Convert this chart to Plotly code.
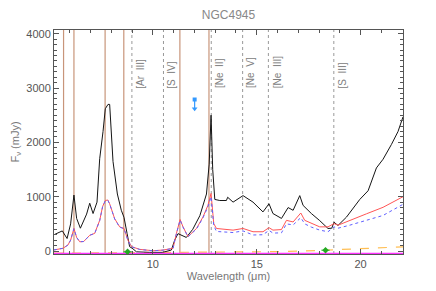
import plotly.graph_objects as go

# ---- data ----
black_wl = [5.24, 5.42, 5.64, 5.87, 6.04, 6.20, 6.33, 6.51, 6.67, 6.81, 6.96, 7.12, 7.31, 7.44, 7.60,
            7.71, 7.84, 7.92, 8.08, 8.29, 8.48, 8.61, 8.76, 8.88, 9.04, 9.21, 9.85, 10.47, 10.89, 11.05,
            11.21, 11.45, 11.61, 11.92, 12.26, 12.58, 12.71, 12.80, 12.88, 12.98, 13.22, 13.54, 13.60,
            13.86, 14.34, 14.82, 15.30, 15.59, 15.78, 16.19, 16.51, 16.75, 17.07, 17.23, 17.63, 18.03,
            18.43, 18.61, 18.72, 18.91, 19.32, 19.96, 20.36, 20.76, 21.08, 21.48, 21.80, 22.04]
black_flux = [300, 330, 370, 230, 500, 1030, 600, 420, 560, 680, 880, 690, 900, 1700, 2200,
              2620, 2700, 2700, 1650, 1050, 750, 620, 320, 80, 40, -15, -25, -25, 18, 200,
              320, 275, 250, 400, 650, 1050, 1600, 2500, 1500, 950, 930, 930, 990,
              900, 1020, 900, 720, 870, 690, 600, 800, 750, 1020, 840, 690, 560,
              415, 420, 530, 470, 625, 950, 1110, 1530, 1690, 1960, 2200, 2470]

red_wl = [5.24, 5.67, 5.91, 6.04, 6.20, 6.33, 6.48, 6.67, 6.96, 7.20, 7.44, 7.58, 7.71, 7.83, 7.92,
          8.16, 8.40, 8.61, 8.80, 8.97, 9.37, 10.01, 10.49, 10.97, 11.13, 11.31, 11.45, 11.69, 12.10,
          12.41, 12.65, 12.80, 12.93, 13.06, 13.86, 14.34, 14.82, 15.30, 15.59, 15.78, 16.19, 16.43,
          16.75, 17.12, 17.31, 17.63, 18.03, 18.43, 18.72, 18.91, 19.47, 20.28, 21.08, 22.04]
red_flux = [20, 50, 110, 200, 415, 250, 170, 175, 290, 325, 565, 820, 930, 940, 870,
            595, 445, 415, 200, 80, 30, 5, 18, 50, 320, 580, 445, 265, 415,
            625, 840, 1060, 505, 415, 385, 415, 355, 355, 430, 385, 395, 565,
            535, 700, 565, 505, 445, 445, 505, 475, 565, 685, 805, 1000]
blue_flux = [20, 50, 110, 200, 410, 250, 170, 175, 290, 325, 560, 815, 925, 935, 865,
             590, 440, 410, 195, 78, 28, 4, 16, 48, 315, 570, 440, 262, 405,
             610, 815, 1000, 470, 360, 340, 370, 295, 300, 380, 330, 335, 500,
             480, 615, 500, 440, 385, 355, 445, 420, 475, 565, 655, 860]

orange_wl = [5.24, 8.0, 10.0, 12.0, 14.0, 16.0, 18.0, 20.0, 22.04]
orange_flux = [-40, -35, -30, -30, -25, -12, 10, 40, 78]

magenta_wl = [5.24, 22.04]
magenta_flux = [-48, -48]

green_wl = [8.78, 18.31]
green_flux = [-15, 15]
green_err = [0.2, 0.2]

limit_wl = [12.01]
limit_flux = [2790]
limit_arrow = [2620]

pah_lines = [5.7, 6.2, 7.7, 8.6, 11.3, 12.7]
ion_lines = [8.99, 10.51, 12.81, 14.32, 15.56, 18.71]
ion_labels = ["[Ar  III]", "[S  IV]", "[Ne  II]", "[Ne  V]", "[Ne  III]", "[S  III]"]

XR = [5.24, 22.04]
YR = [-55, 4070]

fig = go.Figure()

shapes = []
for w in pah_lines:
    shapes.append(dict(type="line", xref="x", yref="paper", x0=w, x1=w, y0=0, y1=1,
                       opacity=1, line=dict(color="#c8957a", width=1.2), layer="below"))
for w in ion_lines:
    shapes.append(dict(type="line", xref="x", yref="paper", x0=w, x1=w, y0=0, y1=1,
                       opacity=1, line=dict(color="#999999", width=1, dash="dot"), layer="below"))

fig.add_trace(go.Scatter(x=orange_wl, y=orange_flux, mode="lines",
                         line=dict(color="#ffbf55", width=1.2, dash="dash"), showlegend=False))
fig.add_trace(go.Scatter(x=black_wl, y=black_flux, mode="lines",
                         line=dict(color="#151515", width=1), showlegend=False))
fig.add_trace(go.Scatter(x=red_wl, y=red_flux, mode="lines",
                         line=dict(color="#ff5555", width=1), showlegend=False))
fig.add_trace(go.Scatter(x=red_wl, y=blue_flux, mode="lines",
                         line=dict(color="#6060ff", width=1, dash="dot"), showlegend=False))
fig.add_trace(go.Scatter(x=magenta_wl, y=magenta_flux, mode="lines",
                         line=dict(color="#ff33ff", width=1.5), showlegend=False))
fig.add_trace(go.Scatter(x=green_wl, y=green_flux, mode="markers",
                         marker=dict(color="#22aa22", size=5, symbol="diamond"),
                         error_x=dict(type="data", array=green_err, color="#22aa22", thickness=1, width=0),
                         showlegend=False))
fig.add_trace(go.Scatter(x=limit_wl * 2, y=limit_flux + limit_arrow, mode="lines",
                         line=dict(color="#3399ff", width=1.2), showlegend=False))
fig.add_trace(go.Scatter(x=limit_wl, y=limit_flux, mode="markers",
                         marker=dict(color="#3399ff", size=4, symbol="square"), showlegend=False))
fig.add_trace(go.Scatter(x=limit_wl, y=limit_arrow, mode="markers",
                         marker=dict(color="#3399ff", size=5, symbol="triangle-down"), showlegend=False))

annotations = []
for w, t in zip(ion_lines, ion_labels):
    annotations.append(dict(x=w, y=2960, xref="x", yref="y", text=t, showarrow=False,
                            textangle=-90, xanchor="left", yanchor="bottom", xshift=1,
                            font=dict(size=10, color="#808080", family="Liberation Sans")))

axis_common = dict(showline=True, linecolor="#555555", linewidth=1, mirror="allticks",
                   ticks="inside", tickcolor="#555555", showgrid=False, zeroline=False,
                   automargin=False,
                   tickfont=dict(size=11, color="#555555", family="Liberation Sans"))

fig.update_layout(
    width=436, height=291,
    margin=dict(l=54, r=33, t=30, b=37),
    paper_bgcolor="white", plot_bgcolor="white",
    font=dict(color="#555555", family="Liberation Sans"),
    hovermode=False,
    title=dict(text="NGC4945", x=0.5, xanchor="center", y=0.965, yanchor="top",
               xref="paper",
               font=dict(size=12, color="#888888", family="Liberation Sans")),
    shapes=shapes, annotations=annotations,
    xaxis=dict(range=XR, dtick=5, tick0=0, ticklen=5,
               minor=dict(ticks="inside", dtick=1, ticklen=3, tickcolor="#555555"),
               title=dict(text="Wavelength (μm)", standoff=2,
                          font=dict(size=11, color="#777777", family="Liberation Sans")),
               **axis_common),
    yaxis=dict(range=YR, dtick=1000, tick0=0, ticklen=5,
               minor=dict(ticks="inside", dtick=100, ticklen=3, tickcolor="#555555"),
               title=dict(text="F<sub>ν</sub> (mJy)", standoff=4,
                          font=dict(size=11, color="#777777", family="Liberation Sans")),
               **axis_common),
)

fig.write_html("out.html", config={"displayModeBar": False, "staticPlot": True},
               post_script="document.body.style.margin='0';document.body.style.overflow='hidden';")
